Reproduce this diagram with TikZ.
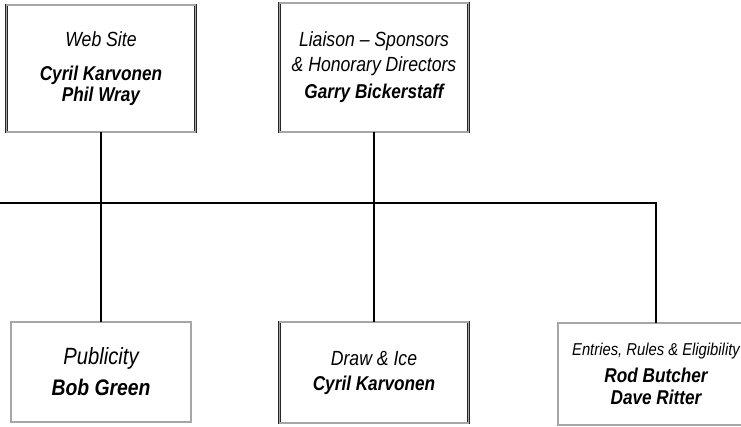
\documentclass[tikz,border=0pt]{standalone}
\usepackage{fontspec}
\setmainfont[FakeStretch=0.86]{Liberation Sans}
\usepackage{tikz}
\newcommand\duty[2][20.5]{{\fontsize{#1}{21}\selectfont\itshape #2}}
\newcommand\who[2][20]{{\fontsize{#1}{21}\selectfont\bfseries\itshape #2}}
\tikzset{
	post/.style={draw=black!85, double=black!35, double distance=1.1pt, line width=0.75pt, fill=white, align=center, inner sep=0pt, font=\fontsize{20}{21}\selectfont},
	link/.style={line width=2.6pt, color=black}
}
\begin{document}
\begin{tikzpicture}[x=1pt, y=-1pt]
			%%%%% START %%%%%
			
			\useasboundingbox (0, 0) rectangle (741, 427);
			
			\node[post, minimum width=189pt, minimum height=127pt] (web) at (101, 68.5) {\duty{Web Site}\\[13pt]\who{Cyril Karvonen}\\\who{Phil Wray}};
			\node[post, minimum width=189pt, minimum height=129pt] (liaison) at (374, 67.5) {\duty{Liaison -- Sponsors}\\[4pt]\duty{\& Honorary Directors}\\[6pt]\who{Garry Bickerstaff}};
			
			\node[post, minimum width=180pt, minimum height=100pt] (pub) at (101, 372) {\duty[23.5]{Publicity}\\[9pt]\who[22.5]{Bob Green}};
			\node[post, minimum width=189pt, minimum height=101pt] (drawice) at (374, 372.5) {\duty{Draw \& Ice}\\[4pt]\who{Cyril Karvonen}};
			\node[post, minimum width=196pt, minimum height=102pt] (entries) at (656, 374) {\duty[17.2]{Entries, Rules \& Eligibility}\\[6pt]\who{Rod Butcher}\\[1pt]\who{Dave Ritter}};
			
			\coordinate (lft) at (-3, 203);
			
			\draw[link] (web) -- (pub);
			\draw[link] (liaison) -- (drawice);
			\draw[link] (lft) -| (entries);
			
			%%%%% END %%%%%
\end{tikzpicture}
\end{document}
